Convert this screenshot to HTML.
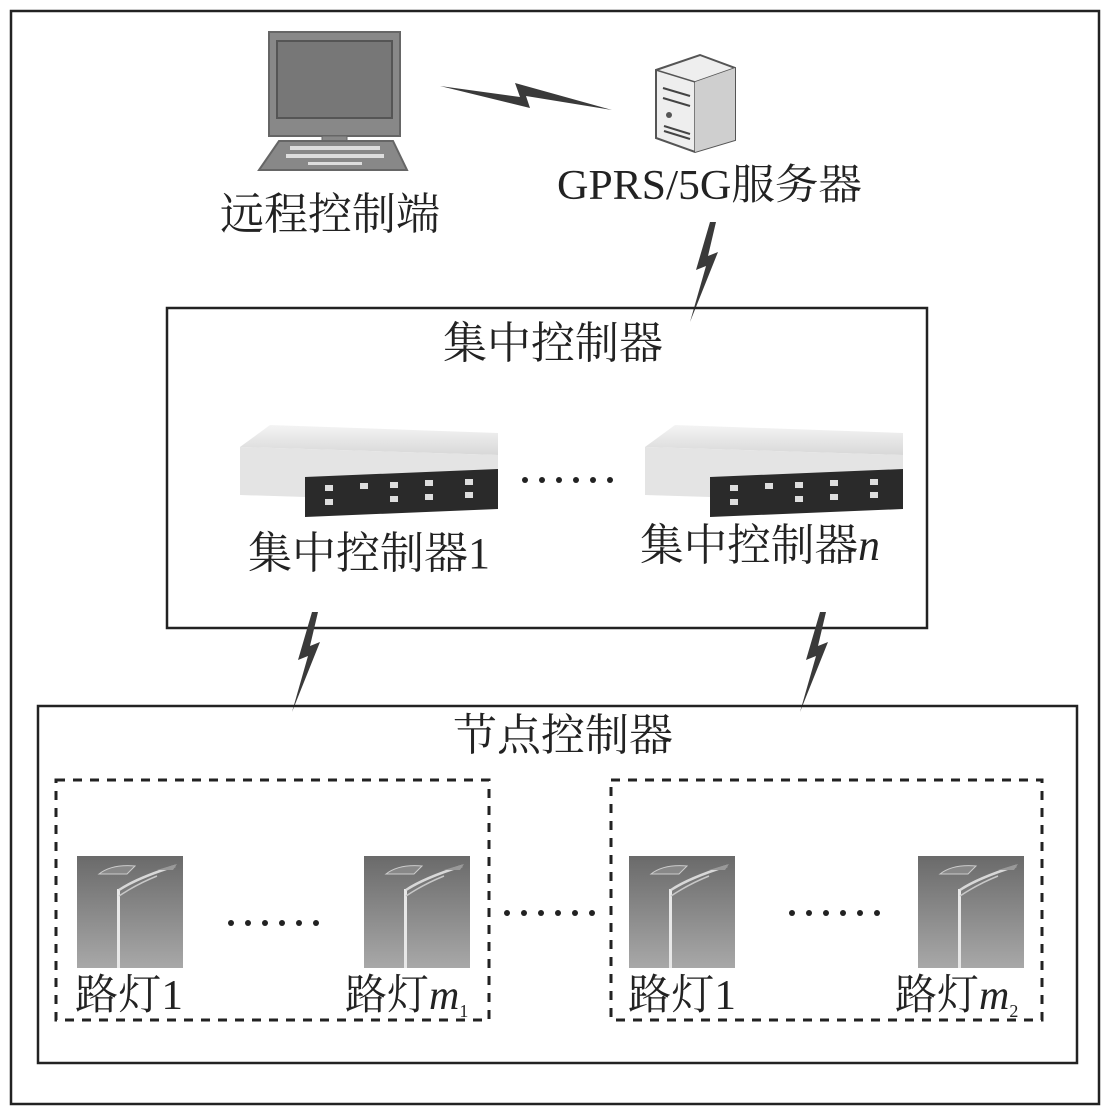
<!DOCTYPE html>
<html><head><meta charset="utf-8"><style>
html,body{margin:0;padding:0;background:#fff;}
svg{display:block}
text{font-family:"Liberation Serif","Noto Serif CJK SC",serif;fill:#222;}
</style></head><body>
<svg width="1110" height="1114" viewBox="0 0 1110 1114" xmlns="http://www.w3.org/2000/svg">
<defs>
<linearGradient id="lg" x1="0" y1="0" x2="0" y2="1"><stop offset="0" stop-color="#6a6a6a"/><stop offset="1" stop-color="#a8a8a8"/></linearGradient>
<linearGradient id="sv" x1="0" y1="0" x2="0" y2="1"><stop offset="0" stop-color="#f4f4f4"/><stop offset="1" stop-color="#d8d8d8"/></linearGradient>
<g id="lamp">
<rect x="0" y="0" width="106" height="112" fill="url(#lg)"/>
<rect x="40" y="33" width="3" height="79" fill="#e8e8e8"/>
<path d="M42 34 Q60 22 98 10" stroke="#d8d8d8" stroke-width="2.5" fill="none"/>
<path d="M42 40 Q60 28 80 20" stroke="#c8c8c8" stroke-width="1.5" fill="none"/>
<path d="M22 18 Q35 8 58 10 L50 18 Z" fill="#888" stroke="#ccc" stroke-width="1"/>
<path d="M80 14 L100 8 L96 14 Z" fill="#999"/>
</g>
<g id="srv">
<path d="M0 22 L30 0 L258 8 L258 30 Z" fill="url(#sv)"/>
<path d="M0 22 L258 30 L258 78 L0 70 Z" fill="#e4e4e4"/>
<path d="M65 52 L258 44 L258 84 L65 92 Z" fill="#2a2a2a"/>
<g fill="#ddd"><rect x="85" y="60" width="8" height="6"/><rect x="85" y="74" width="8" height="6"/><rect x="120" y="58" width="8" height="6"/><rect x="150" y="57" width="8" height="6"/><rect x="150" y="71" width="8" height="6"/><rect x="185" y="55" width="8" height="6"/><rect x="185" y="69" width="8" height="6"/><rect x="225" y="54" width="8" height="6"/><rect x="225" y="67" width="8" height="6"/></g>
</g>
<g id="bolt"><path d="M0 0 L-14 48 L-4 44 L-20 100 L8 30 L-2 34 L6 0 Z" fill="#3a3a3a"/></g>
</defs>
<rect x="11" y="11" width="1088" height="1093" fill="none" stroke="#222" stroke-width="2.5"/>
<rect x="269" y="32" width="131" height="104" fill="#888" stroke="#666" stroke-width="2"/>
<rect x="277" y="41" width="115" height="77" fill="#777" stroke="#555" stroke-width="2"/>
<rect x="322" y="136" width="25" height="12" fill="#888" stroke="#666"/>
<path d="M279 141 L393 141 L407 170 L259 170 Z" fill="#888" stroke="#666" stroke-width="2"/>
<g fill="#ddd"><rect x="290" y="146" width="90" height="4"/><rect x="286" y="154" width="98" height="4"/><rect x="308" y="162" width="54" height="3"/></g>
<path d="M440 86 L530 108 L526 96 L612 110 L515 83 L520 97 Z" fill="#3a3a3a"/>
<path d="M656 70 L700 55 L735 68 L735 140 L695 152 L656 138 Z" fill="#eee" stroke="#555" stroke-width="2"/>
<path d="M656 70 L695 82 L735 68" fill="none" stroke="#555" stroke-width="1.5"/>
<path d="M695 82 L695 152" stroke="#555" stroke-width="1.5"/>
<path d="M695 82 L735 68 L735 140 L695 152 Z" fill="#cfcfcf"/>
<g stroke="#444" stroke-width="2"><line x1="663" y1="88" x2="690" y2="96"/><line x1="663" y1="98" x2="690" y2="106"/><line x1="664" y1="126" x2="690" y2="134"/><line x1="664" y1="131" x2="690" y2="139"/></g>
<circle cx="669" cy="115" r="3" fill="#555"/>
<text x="557" y="199" font-size="42" textLength="305" lengthAdjust="spacingAndGlyphs">GPRS/5G服务器</text>
<text x="220" y="229" font-size="44" textLength="220" lengthAdjust="spacingAndGlyphs">远程控制端</text>
<use href="#bolt" transform="translate(710,222)"/>
<rect x="167" y="308" width="760" height="320" fill="none" stroke="#222" stroke-width="2.5"/>
<text x="443" y="358" font-size="44" textLength="220" lengthAdjust="spacingAndGlyphs">集中控制器</text>
<use href="#srv" transform="translate(240,425)"/>
<use href="#srv" transform="translate(645,425)"/>
<g fill="#222"><circle cx="525" cy="480" r="3"/><circle cx="542" cy="480" r="3"/><circle cx="559" cy="480" r="3"/><circle cx="576" cy="480" r="3"/><circle cx="593" cy="480" r="3"/><circle cx="610" cy="480" r="3"/></g>
<text x="248" y="568" font-size="44" textLength="242" lengthAdjust="spacingAndGlyphs">集中控制器1</text>
<text x="640" y="560" font-size="44" textLength="240" lengthAdjust="spacingAndGlyphs">集中控制器<tspan font-style="italic">n</tspan></text>
<use href="#bolt" transform="translate(312,612)"/>
<use href="#bolt" transform="translate(820,612)"/>
<rect x="38" y="706" width="1039" height="357" fill="none" stroke="#222" stroke-width="2.5"/>
<text x="453" y="750" font-size="44" textLength="220" lengthAdjust="spacingAndGlyphs">节点控制器</text>
<rect x="56" y="780" width="433" height="240" fill="none" stroke="#222" stroke-width="3" stroke-dasharray="9,8"/>
<rect x="611" y="780" width="431" height="240" fill="none" stroke="#222" stroke-width="3" stroke-dasharray="9,8"/>
<use href="#lamp" transform="translate(77,856)"/>
<use href="#lamp" transform="translate(364,856)"/>
<use href="#lamp" transform="translate(629,856)"/>
<use href="#lamp" transform="translate(918,856)"/>
<g fill="#222">
<circle cx="231" cy="923" r="3"/><circle cx="248" cy="923" r="3"/><circle cx="265" cy="923" r="3"/><circle cx="282" cy="923" r="3"/><circle cx="299" cy="923" r="3"/><circle cx="316" cy="923" r="3"/>
<circle cx="507" cy="913" r="3"/><circle cx="524" cy="913" r="3"/><circle cx="541" cy="913" r="3"/><circle cx="558" cy="913" r="3"/><circle cx="575" cy="913" r="3"/><circle cx="592" cy="913" r="3"/>
<circle cx="792" cy="913" r="3"/><circle cx="809" cy="913" r="3"/><circle cx="826" cy="913" r="3"/><circle cx="843" cy="913" r="3"/><circle cx="860" cy="913" r="3"/><circle cx="877" cy="913" r="3"/>
</g>
<text x="75" y="1009" font-size="42" textLength="108" lengthAdjust="spacingAndGlyphs">路灯1</text>
<text x="345" y="1009" font-size="42">路灯<tspan font-style="italic">m</tspan><tspan font-size="18" dy="8">1</tspan></text>
<text x="628" y="1009" font-size="42" textLength="108" lengthAdjust="spacingAndGlyphs">路灯1</text>
<text x="895" y="1009" font-size="42">路灯<tspan font-style="italic">m</tspan><tspan font-size="18" dy="8">2</tspan></text>
</svg>
</body></html>
